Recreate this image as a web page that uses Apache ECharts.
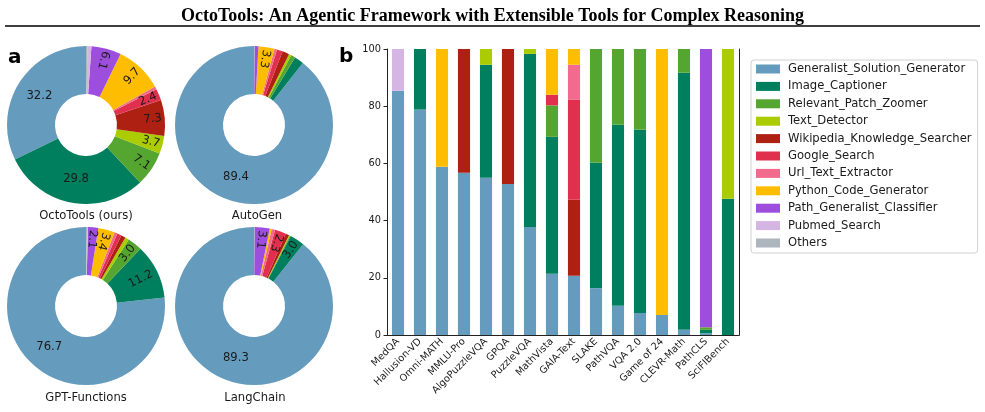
<!DOCTYPE html>
<html>
<head>
<meta charset="utf-8">
<script src="https://cdn.jsdelivr.net/npm/echarts@6/dist/echarts.min.js"></script>
<style>html,body{margin:0;padding:0;background:#fff;}#c{width:985px;height:412px;}</style>
</head>
<body>
<div id="c"></div>
<script>
const tools = ['Generalist_Solution_Generator','Image_Captioner','Relevant_Patch_Zoomer','Text_Detector','Wikipedia_Knowledge_Searcher','Google_Search','Url_Text_Extractor','Python_Code_Generator','Path_Generalist_Classifier','Pubmed_Search','Others'];
const toolColors = ['#659cbd','#007f5f','#55a630','#aacc00','#ae2012','#e0304e','#f26a8d','#ffbd00','#9d4edd','#d4b5e3','#adb5bd'];

const pieNames = ['OctoTools (ours)','AutoGen','GPT-Functions','LangChain'];
const pieOctoTools = [32.2, 29.8, 7.1, 3.7, 7.3, 2.4, 0.6, 9.7, 6.1, 0.8, 0.3];
const pieAutoGen   = [89.4, 1.9, 0.9, 0.5, 1.4, 1.2, 0.5, 3.3, 0.8, 0, 0.1];
const pieGPTFunctions = [76.7, 11.2, 3.0, 0.8, 0.9, 0.9, 0.6, 3.4, 2.1, 0.2, 0.2];
const pieLangChain = [89.3, 3.0, 0.2, 0.2, 0.7, 2.3, 0.7, 0.4, 3.1, 0, 0.1];

const categories = ['MedQA','Hallusion-VD','Omni-MATH','MMLU-Pro','AlgoPuzzleVQA','GPQA','PuzzleVQA','MathVista','GAIA-Text','SLAKE','PathVQA','VQA 2.0','Game of 24','CLEVR-Math','PathCLS','SciFIBench'];
const barGeneralist = [85.4, 78.8, 58.8, 56.7, 55.0, 52.8, 37.8, 21.4, 20.7, 16.4, 10.2, 7.7, 7.0, 1.8, 0.6, 0];
const barImageCaptioner = [0, 21.2, 0, 0, 39.5, 0, 60.5, 47.9, 0, 43.8, 63.3, 64.1, 0, 89.9, 1.2, 47.6];
const barPatchZoomer = [0, 0, 0, 0, 0, 0, 0, 11.0, 0, 39.8, 26.5, 28.2, 0, 8.3, 0.9, 0];
const barTextDetector = [0, 0, 0, 0, 5.5, 0, 1.7, 0, 0, 0, 0, 0, 0, 0, 0, 52.4];
const barWikipedia = [0, 0, 0, 43.3, 0, 47.2, 0, 0, 26.6, 0, 0, 0, 0, 0, 0, 0];
const barGoogle = [0, 0, 0, 0, 0, 0, 0, 3.7, 35.0, 0, 0, 0, 0, 0, 0, 0];
const barUrl = [0, 0, 0, 0, 0, 0, 0, 0, 12.2, 0, 0, 0, 0, 0, 0, 0];
const barPython = [0, 0, 41.2, 0, 0, 0, 0, 16.0, 5.5, 0, 0, 0, 93.0, 0, 0, 0];
const barPathClassifier = [0, 0, 0, 0, 0, 0, 0, 0, 0, 0, 0, 0, 0, 0, 97.3, 0];
const barPubmed = [14.6, 0, 0, 0, 0, 0, 0, 0, 0, 0, 0, 0, 0, 0, 0, 0];
const barOthers = [0, 0, 0, 0, 0, 0, 0, 0, 0, 0, 0, 0, 0, 0, 0, 0];
const yTicks = [0, 20, 40, 60, 80, 100];

const barSeriesData = [barGeneralist, barImageCaptioner, barPatchZoomer, barTextDetector, barWikipedia, barGoogle, barUrl, barPython, barPathClassifier, barPubmed, barOthers];
const pieSeriesData = [pieOctoTools, pieAutoGen, pieGPTFunctions, pieLangChain];

const FONT = 'DejaVu Sans';
const TXT = '#1a1a1a';

const pieCenters = [[86,125],[254,125],[86,306],[254,306]];
const pieRadius = [31, 79];
const pieTitleY = [216, 216, 398, 398];
const pieTitleX = [86, 257, 86, 255];
// label ring classes: [min pct, max pct, ring radius for labels]
const labelRings = [[0, 10, [49, 79]], [10, 20, [37, 79]], [20, 101, [31, 73]]];

function pieItems(vals, ringIdx){
  const total = vals.reduce((a,b)=>a+b,0);
  let cum = 0;
  return vals.map((v,i)=>{
    const mid = cum + v/2; cum += v;
    const pct = v/total*100;
    let th = 90 + mid/total*360;
    while (th > 180) th -= 360;
    let rot = 0;
    if (pct < 20) rot = (th > 60 && th <= 90) ? th - 180 : th;
    if (ringIdx < 0) {
      return {name: tools[i], value: v, itemStyle:{color: toolColors[i]}, label:{show:false}};
    }
    const rg = labelRings[ringIdx];
    const show = pct >= 2 && pct >= rg[0] && pct < rg[1];
    return {name: tools[i], value: v, itemStyle:{color:'rgba(0,0,0,0)'}, label:{show: show, rotate: rot}};
  });
}

const series = [];
barSeriesData.forEach((d,i)=>{
  series.push({
    type:'bar', name: tools[i], data: d, stack:'s', barWidth:'55%',
    itemStyle:{color: toolColors[i]}, xAxisIndex:0, yAxisIndex:0,
    emphasis:{disabled:true}
  });
});
pieSeriesData.forEach((d,k)=>{
  series.push({
    type:'pie', name: pieNames[k], center: pieCenters[k], radius: pieRadius,
    startAngle:90, clockwise:false, avoidLabelOverlap:false, animation:false,
    label:{show:false}, labelLine:{show:false}, emphasis:{disabled:true},
    data: pieItems(d, -1)
  });
  labelRings.forEach((rg, ri)=>{
    series.push({
      type:'pie', name: pieNames[k] + ' labels ' + ri, center: pieCenters[k], radius: rg[2],
      startAngle:90, clockwise:false, avoidLabelOverlap:false, animation:false, silent:true,
      label:{position:'inside', formatter: p=>p.value.toFixed(1), fontSize:11.6, fontFamily:FONT, color:TXT},
      labelLayout:{hideOverlap:false}, labelLine:{show:false}, emphasis:{disabled:true},
      data: pieItems(d, ri)
    });
  });
});

const chart = echarts.init(document.getElementById('c'), null, {renderer:'canvas'});
chart.setOption({
  animation:false,
  backgroundColor:'#fff',
  tooltip:{show:false},
  title:{text:'OctoTools: An Agentic Framework with Extensible Tools for Complex Reasoning', left:'center', top:2,
    textStyle:{fontFamily:'Liberation Serif', fontWeight:'bold', fontSize:18, color:'#000'}},
  legend:{
    orient:'vertical', left:751, top:60, data: tools,
    itemWidth:24, itemHeight:9, itemGap:3.4, icon:'rect',
    padding:[2,6,3,5], borderColor:'#d0d0d0', borderWidth:1, borderRadius:3,
    textStyle:{fontFamily:FONT, fontSize:11.6, color:TXT, lineHeight:14, padding:[0,0,0,3]},
    selectedMode:false
  },
  grid:{left:387, right:246, top:49, bottom:77},
  xAxis:[{
    type:'category', data: categories, position:'bottom',
    axisLine:{lineStyle:{color:'#222', width:1}},
    axisTick:{alignWithLabel:true, length:3.5, lineStyle:{color:'#222'}},
    axisLabel:{rotate:45, fontSize:9.8, fontFamily:FONT, color:TXT, margin:5, interval:0}
  },{
    type:'category', data: categories, position:'top',
    axisLine:{lineStyle:{color:'#222', width:1}}, axisTick:{show:false}, axisLabel:{show:false}
  }],
  yAxis:[{
    type:'value', min:0, max:100, interval:20, position:'left',
    axisLine:{show:true, lineStyle:{color:'#222', width:1}},
    axisTick:{show:true, length:3.5, lineStyle:{color:'#222'}},
    splitLine:{show:false},
    axisLabel:{fontSize:9.8, fontFamily:FONT, color:TXT, margin:6,
      formatter: v => yTicks.indexOf(v) >= 0 ? String(v) : ''}
  },{
    type:'value', min:0, max:100, interval:20, position:'right',
    axisLine:{show:true, lineStyle:{color:'#222', width:1}},
    axisTick:{show:false}, axisLabel:{show:false}, splitLine:{show:false}
  }],
  graphic:[
    {type:'line', shape:{x1:5,y1:26,x2:980,y2:26}, style:{stroke:'#000', lineWidth:1.5}},
    {type:'text', x:8, y:58, style:{text:'a', font:'bold 20px "DejaVu Sans"', fill:'#000', textVerticalAlign:'middle'}},
    {type:'text', x:339, y:57, style:{text:'b', font:'bold 20px "DejaVu Sans"', fill:'#000', textVerticalAlign:'middle'}},
    ...pieNames.map((n,k)=>({type:'text', x:pieTitleX[k], y:pieTitleY[k],
      style:{text:n, font:'11.6px "DejaVu Sans"', fill:TXT, textAlign:'center', textVerticalAlign:'middle'}}))
  ],
  series: series
});
</script>
</body>
</html>
